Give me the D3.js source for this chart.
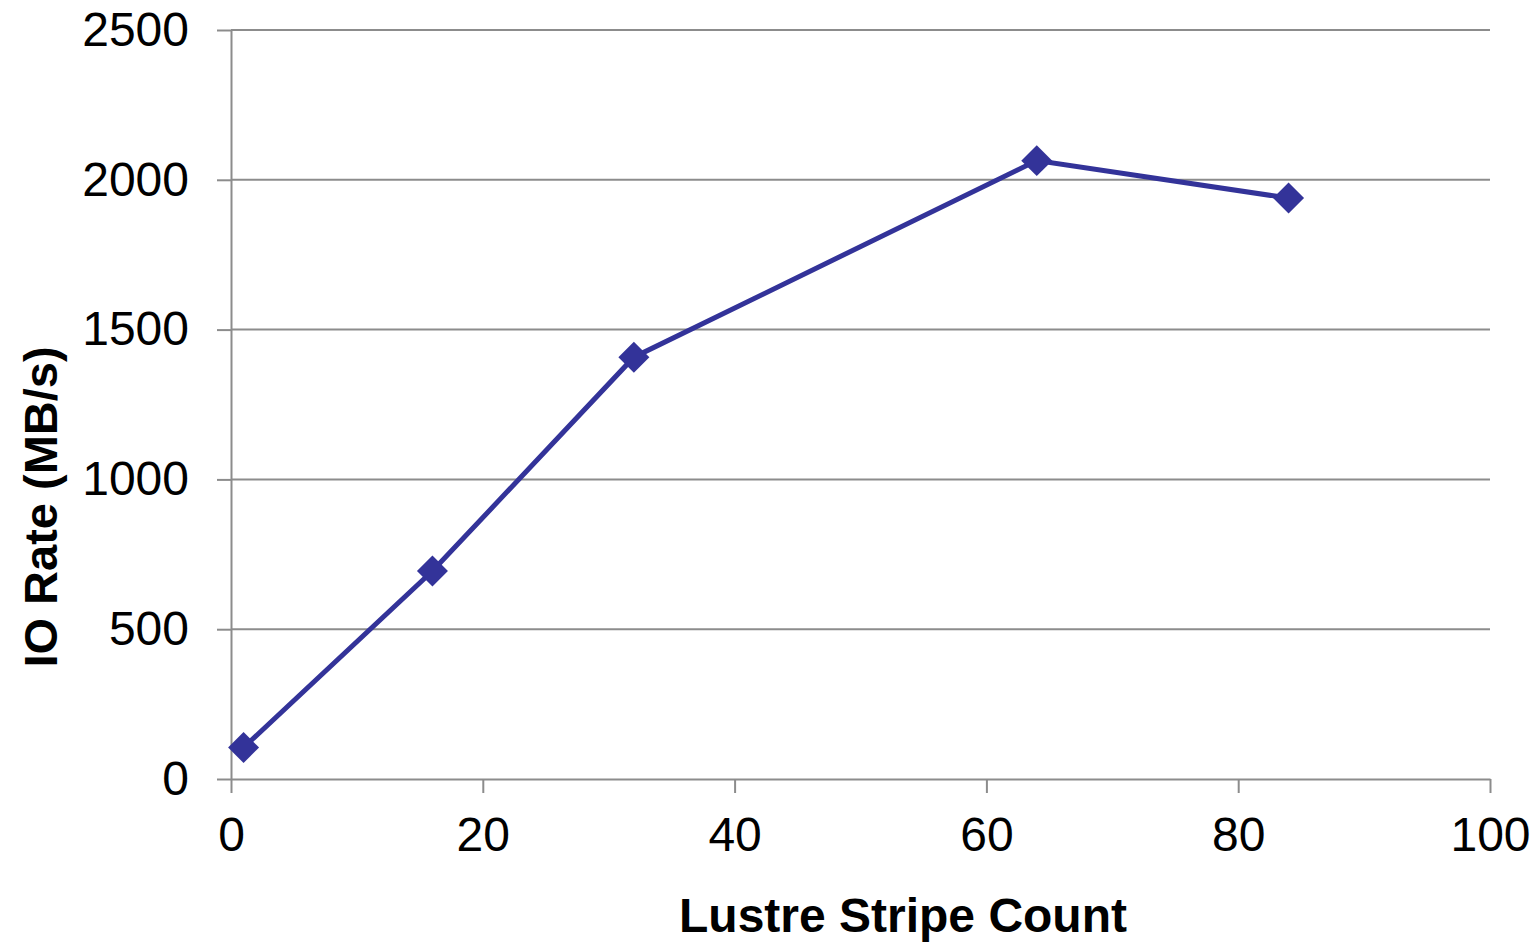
<!DOCTYPE html>
<html>
<head>
<meta charset="utf-8">
<script src="https://cdn.jsdelivr.net/npm/d3@7"></script>
<style>
  body { margin: 0; background: #fff; }
  text { font-family: "Liberation Sans", Arial, sans-serif; }
</style>
</head>
<body>
<div id="vis-container"></div>
<script>
const width = 1538,
    height = 945;

// data
const stripeCounts = [1, 16, 32, 64, 84];
const ioRates = [105, 694, 1408, 2064, 1939];
const xTicks = [0, 20, 40, 60, 80, 100];
const yTicks = [0, 500, 1000, 1500, 2000, 2500];

const margin = {left: 231, right: 48, top: 30, bottom: 166};

var x = d3.scaleLinear()
    .domain([0, 100])
    .range([margin.left, width - margin.right]);

var y = d3.scaleLinear()
    .domain([0, 2500])
    .range([height - margin.bottom, margin.top]);

var svg = d3.select("#vis-container").append("svg")
    .attr("width", width)
    .attr("height", height);

// gridlines
svg.append("g")
    .selectAll("line")
    .data(yTicks.slice(1))
    .enter().append("line")
    .attr("x1", x(0)).attr("x2", x(100))
    .attr("y1", d => y(d)).attr("y2", d => y(d))
    .attr("stroke", "#8c8c8c")
    .attr("stroke-width", 2);

// axes
var xAxis = svg.append("g")
    .attr("transform", "translate(0," + y(0) + ")")
    .call(d3.axisBottom(x).tickValues(xTicks).tickFormat(d3.format("d"))
      .tickSize(14).tickSizeOuter(0).tickPadding(24));

var yAxis = svg.append("g")
    .attr("transform", "translate(" + x(0) + ",0)")
    .call(d3.axisLeft(y).tickValues(yTicks).tickFormat(d3.format("d"))
      .tickSize(14).tickSizeOuter(0).tickPadding(28));

[xAxis, yAxis].forEach(function(a) {
  a.select(".domain").attr("stroke", "#8c8c8c").attr("stroke-width", 2);
  a.selectAll(".tick line").attr("stroke", "#8c8c8c").attr("stroke-width", 2);
  a.selectAll(".tick text")
    .attr("fill", "#000")
    .style("font-size", "48px")
    .style("font-family", "'Liberation Sans', Arial, sans-serif");
});

// line
var line = d3.line()
    .x((d, i) => x(stripeCounts[i]))
    .y(d => y(d));

svg.append("path")
    .datum(ioRates)
    .attr("d", line)
    .attr("fill", "none")
    .attr("stroke", "#333399")
    .attr("stroke-width", 5);

// diamond markers
svg.append("g")
    .selectAll("path")
    .data(ioRates)
    .enter().append("path")
    .attr("d", d3.symbol().type(d3.symbolSquare).size(480))
    .attr("transform", (d, i) => "translate(" + x(stripeCounts[i]) + "," + y(d) + ") rotate(45)")
    .attr("fill", "#333399");

// axis titles
svg.append("text")
    .attr("x", 903)
    .attr("y", 932)
    .attr("text-anchor", "middle")
    .style("font-size", "48px")
    .style("font-weight", "bold")
    .text("Lustre Stripe Count");

svg.append("text")
    .attr("transform", "translate(57,507) rotate(-90)")
    .attr("text-anchor", "middle")
    .style("font-size", "47px")
    .style("font-weight", "bold")
    .text("IO Rate (MB/s)");
</script>
</body>
</html>
